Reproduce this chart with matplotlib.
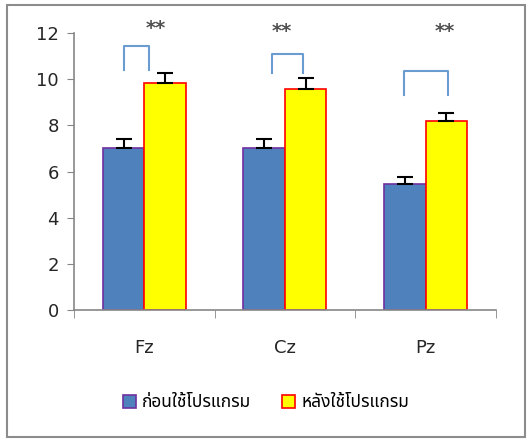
import matplotlib
matplotlib.use("Agg")
import matplotlib.pyplot as plt
from matplotlib.patches import Rectangle
import numpy as np

categories = ["Fz", "Cz", "Pz"]
before = [7.0, 7.0, 5.45]
after = [9.83, 9.58, 8.19]
before_err = [0.42, 0.43, 0.30]
after_err = [0.45, 0.47, 0.35]
labels = ["ก่อนใช้โปรแกรม", "หลังใช้โปรแกรม"]
stars = ["**", "**", "**"]

plt.rcParams["font.family"] = ["DejaVu Sans", "Noto Sans Thai", "Bai Jamjuree"]

fig = plt.figure(figsize=(5.32, 4.42), dpi=100)
ax = fig.add_axes([0.139, 0.2986, 0.793, 0.6267])

x = np.arange(len(categories))
w = 0.295
ax.bar(x - w / 2, before, w, color="#4F81BD", edgecolor="#7030A0", linewidth=1.2, label=labels[0])
ax.bar(x + w / 2, after, w, color="#FFFF00", edgecolor="#FF0000", linewidth=1.2, label=labels[1])
ax.errorbar(x - w / 2, before, yerr=[np.zeros(3), before_err], fmt="none", ecolor="black", elinewidth=1.5, capsize=6, capthick=1.5)
ax.errorbar(x + w / 2, after, yerr=[np.zeros(3), after_err], fmt="none", ecolor="black", elinewidth=1.5, capsize=6, capthick=1.5)

# significance brackets
brackets = [(-0.143, 0.036, 10.4, 11.44), (-0.093, 0.129, 10.27, 11.09), (-0.15, 0.157, 9.32, 10.36)]
star_pos = [(0.08, 12.2), (-0.02, 12.05), (0.14, 12.05)]
for i, (l, r, b, t) in enumerate(brackets):
    ax.plot([i + l, i + l, i + r, i + r], [b, t, t, b], color="#6A9BD1", linewidth=1.5, clip_on=False)
    ax.text(i + star_pos[i][0], star_pos[i][1], stars[i], ha="center", va="center", fontsize=14,
            fontweight="bold", color="#505050", clip_on=False)

ax.set_xlim(-0.5, 2.5)
ax.set_ylim(0, 12)
ax.set_yticks(range(0, 13, 2))
ax.set_xticks(x)
ax.set_xticklabels(categories)
ax.set_xticks([-0.5, 0.5, 1.5, 2.5], minor=True)
ax.tick_params(axis="x", which="major", length=0, pad=21, labelsize=13, labelcolor="#262626")
ax.tick_params(axis="x", which="minor", length=6, direction="out", color="#868686")
ax.tick_params(axis="y", length=5, direction="out", color="#868686", labelsize=13, pad=6, labelcolor="#262626")
for s in ["top", "right"]:
    ax.spines[s].set_visible(False)
for s in ["left", "bottom"]:
    ax.spines[s].set_color("#868686")
    ax.spines[s].set_linewidth(1.2)

fig.legend(loc="center", bbox_to_anchor=(0.5, 0.09), ncol=2, frameon=False, fontsize=12.5,
           handlelength=0.75, handleheight=0.75, columnspacing=1.8, handletextpad=0.35)

fig.patches.append(Rectangle((0.013, 0.011), 0.974, 0.977, transform=fig.transFigure,
                             fill=False, edgecolor="#8C8C8C", linewidth=1.5))

fig.savefig("out.png", dpi=100)
